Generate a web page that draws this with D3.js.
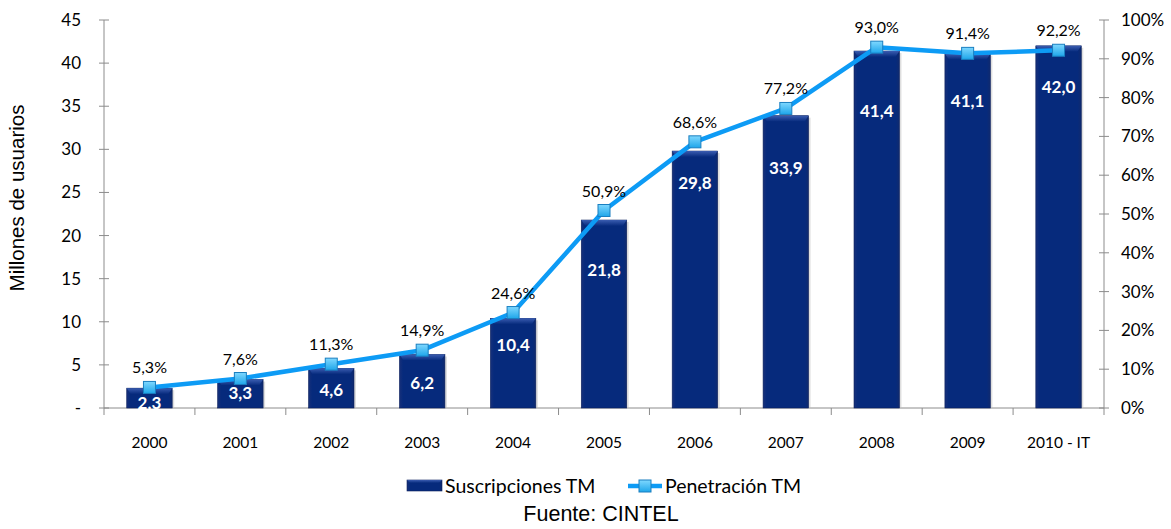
<!DOCTYPE html>
<html><head><meta charset="utf-8">
<script src="https://cdn.jsdelivr.net/npm/d3@7"></script>
<style>body{margin:0;background:#fff}svg{display:block}</style>
</head><body><svg id="c" width="1171" height="529"></svg>
<script>
const categories = ["2000","2001","2002","2003","2004","2005","2006","2007","2008","2009","2010 - IT"];
const suscripciones = [2.3,3.3,4.6,6.2,10.4,21.8,29.8,33.9,41.4,41.1,42.0];
const penetracion = [5.3,7.6,11.3,14.9,24.6,50.9,68.6,77.2,93.0,91.4,92.2];
const leftTicks = [0,5,10,15,20,25,30,35,40,45];
const rightTicks = [0,10,20,30,40,50,60,70,80,90,100];
// label placement below bar top (px)
const barLabelOffset = [15,13,22,28,27,50,32,52,60,47,41];

const svg = d3.select("#c");
const m = {l:104, r:1104, t:20, b:408};
const x = d3.scaleBand().domain(categories).range([m.l, m.r]).paddingInner(0.5).paddingOuter(0.25);
const y = d3.scaleLinear().domain([0,45]).range([m.b, m.t]);
const y2 = d3.scaleLinear().domain([0,100]).range([m.b, m.t]);
const fmt = d => d.toFixed(1).replace(".", ",");
const font = "Lato, 'Open Sans', sans-serif";

const defs = svg.append("defs");
const g1 = defs.append("linearGradient").attr("id","barg").attr("x1",0).attr("x2",1);
g1.append("stop").attr("offset",0).attr("stop-color","#17307a");
g1.append("stop").attr("offset",0.08).attr("stop-color","#062a7c");
g1.append("stop").attr("offset",0.92).attr("stop-color","#062a7c");
g1.append("stop").attr("offset",1).attr("stop-color","#102a6e");
const gt = defs.append("linearGradient").attr("id","topg").attr("x1",0).attr("x2",0).attr("y1",0).attr("y2",1);
gt.append("stop").attr("offset",0).attr("stop-color","#3a5cb0");
gt.append("stop").attr("offset",1).attr("stop-color","#062a7c");
const gm = defs.append("linearGradient").attr("id","mk").attr("x1",0).attr("x2",0).attr("y1",0).attr("y2",1);
gm.append("stop").attr("offset",0).attr("stop-color","#7fd8ff");
gm.append("stop").attr("offset",1).attr("stop-color","#1ea6ea");

// Axes
const axisColor = "#8c8c8c";
const la = svg.append("g");
la.append("line").attr("x1",m.l).attr("x2",m.l).attr("y1",m.t).attr("y2",m.b).attr("stroke",axisColor);
leftTicks.forEach(t=>{
  la.append("line").attr("x1",m.l-5).attr("x2",m.l+5).attr("y1",y(t)).attr("y2",y(t)).attr("stroke",axisColor);
  la.append("text").attr("x",m.l-23).attr("y",y(t)+6).attr("text-anchor","end")
    .attr("font-family",font).attr("font-size",17).attr("fill","#000").text(t===0?"-":t);
});
const ra = svg.append("g");
ra.append("line").attr("x1",m.r).attr("x2",m.r).attr("y1",m.t).attr("y2",m.b).attr("stroke",axisColor);
rightTicks.forEach(t=>{
  ra.append("line").attr("x1",m.r-5).attr("x2",m.r+5).attr("y1",y2(t)).attr("y2",y2(t)).attr("stroke",axisColor);
  ra.append("text").attr("x",m.r+17).attr("y",y2(t)+6).attr("text-anchor","start")
    .attr("font-family",font).attr("font-size",17).attr("fill","#000").text(t+"%");
});
const ba = svg.append("g");
ba.append("line").attr("x1",m.l).attr("x2",m.r).attr("y1",m.b).attr("y2",m.b).attr("stroke",axisColor);
const step = x.step();
for(let i=0;i<=categories.length;i++){
  const xx = m.l + i*step;
  ba.append("line").attr("x1",xx).attr("x2",xx).attr("y1",m.b).attr("y2",m.b+7).attr("stroke",axisColor);
}
categories.forEach(c=>{
  ba.append("text").attr("x",x(c)+x.bandwidth()/2).attr("y",448).attr("text-anchor","middle")
    .attr("font-family",font).attr("font-size",15.5).attr("fill","#000").text(c);
});

// Bars
const bars = svg.append("g");
categories.forEach((c,i)=>{
  const v = suscripciones[i];
  const bx = x(c), bw = x.bandwidth(), by = y(v), bh = y(0)-y(v);
  bars.append("rect").attr("x",bx+2).attr("y",by+2).attr("width",bw).attr("height",bh-2).attr("fill","#bdbdbd").attr("opacity",0.5);
  bars.append("rect").attr("x",bx).attr("y",by).attr("width",bw).attr("height",bh).attr("fill","url(#barg)").attr("stroke","#0a1f5c").attr("stroke-width",0.6);
  bars.append("polygon").attr("points",`${bx},${by} ${bx+bw},${by} ${bx+bw-4},${by+6} ${bx+4},${by+6}`).attr("fill","url(#topg)");
});
categories.forEach((c,i)=>{
  bars.append("text").attr("x",x(c)+x.bandwidth()/2).attr("y",y(suscripciones[i])+barLabelOffset[i]+6)
    .attr("text-anchor","middle").attr("font-family",font).attr("font-weight","bold").attr("font-size",17)
    .attr("fill","#fff").text(fmt(suscripciones[i]));
});

// Line
const cx = c => x(c)+x.bandwidth()/2;
const line = d3.line().x((d,i)=>cx(categories[i])).y(d=>y2(d));
svg.append("path").datum(penetracion).attr("d",line).attr("fill","none").attr("stroke","#0d9bf5").attr("stroke-width",4.5).attr("stroke-linejoin","round");
const mk = svg.append("g");
penetracion.forEach((p,i)=>{
  const px = cx(categories[i]), py = y2(p);
  mk.append("rect").attr("x",px-6).attr("y",py-6).attr("width",12).attr("height",12).attr("fill","url(#mk)").attr("stroke","#1a7fc0").attr("stroke-width",1);
  mk.append("text").attr("x",px).attr("y",py-14).attr("text-anchor","middle")
    .attr("font-family",font).attr("font-size",16).attr("fill","#000").text(fmt(p)+"%");
});

// Y title
svg.append("text").attr("transform","translate(24,198) rotate(-90)").attr("text-anchor","middle")
  .attr("font-family","'Liberation Sans', Arial, sans-serif").attr("font-size",20.5).attr("fill","#000").text("Millones de usuarios");

// Legend
const lg = svg.append("g");
lg.append("rect").attr("x",407).attr("y",480).attr("width",35).attr("height",11).attr("fill","url(#barg)").attr("stroke","#0a1f5c").attr("stroke-width",0.6);
lg.append("polygon").attr("points","407,480 442,480 439,483 410,483").attr("fill","url(#topg)");
lg.append("text").attr("x",445).attr("y",493).attr("font-family",font).attr("font-size",19.5).attr("fill","#000").text("Suscripciones TM");
lg.append("line").attr("x1",628).attr("x2",662).attr("y1",486).attr("y2",486).attr("stroke","#0d9bf5").attr("stroke-width",4.5);
lg.append("rect").attr("x",639).attr("y",480).attr("width",12).attr("height",12).attr("fill","url(#mk)").attr("stroke","#1a7fc0");
lg.append("text").attr("x",665).attr("y",493).attr("font-family",font).attr("font-size",19.5).attr("fill","#000").text("Penetración TM");

svg.append("text").attr("x",601).attr("y",521).attr("text-anchor","middle")
  .attr("font-family","'Liberation Sans', Arial, sans-serif").attr("font-size",21.5).attr("fill","#000").text("Fuente: CINTEL");
</script></body></html>
